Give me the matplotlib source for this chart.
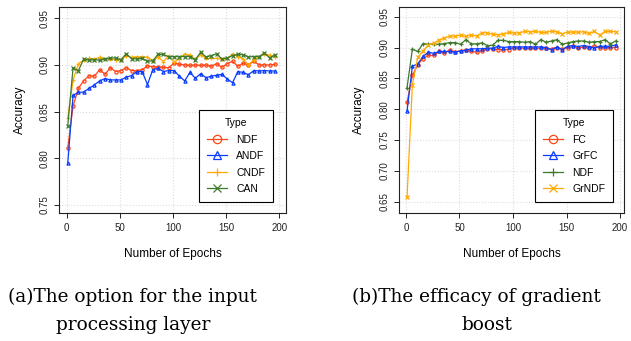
import numpy as np
import matplotlib
matplotlib.use("Agg")
import matplotlib.pyplot as plt

plt.rcParams['font.family'] = ['Liberation Sans', 'DejaVu Sans']

# epochs sampled every 5 steps
epochs = np.arange(1, 200, 5)

# (a) input processing layer
ndf_a = [0.811, 0.856, 0.875, 0.883, 0.8886, 0.888, 0.895, 0.890, 0.897, 0.893,
         0.894, 0.897, 0.894, 0.894, 0.895, 0.899, 0.898, 0.898, 0.8975, 0.897,
         0.902, 0.9007, 0.900, 0.8996, 0.900, 0.8996, 0.900, 0.8986, 0.9014, 0.8975,
         0.9014, 0.904, 0.8986, 0.902, 0.900, 0.904, 0.900, 0.900, 0.900, 0.9007]
andf_a = [0.795, 0.8675, 0.8707, 0.871, 0.875, 0.8786, 0.883, 0.8854, 0.884, 0.884,
          0.884, 0.887, 0.8886, 0.893, 0.893, 0.879, 0.895, 0.8964, 0.893, 0.894,
          0.894, 0.888, 0.883, 0.892, 0.8857, 0.8907, 0.8864, 0.888, 0.889, 0.890,
          0.885, 0.881, 0.893, 0.892, 0.8896, 0.894, 0.8936, 0.894, 0.8936, 0.8936]
cndf_a = [0.843, 0.884, 0.9014, 0.905, 0.907, 0.9064, 0.908, 0.9064, 0.9064, 0.9057,
          0.905, 0.910, 0.908, 0.909, 0.908, 0.9086, 0.9046, 0.9086, 0.9036, 0.910,
          0.903, 0.9068, 0.9118, 0.9104, 0.9064, 0.9107, 0.907, 0.907, 0.907, 0.9064,
          0.9064, 0.912, 0.909, 0.9064, 0.900, 0.9057, 0.909, 0.912, 0.9104, 0.9086]
can_a = [0.835, 0.897, 0.894, 0.9064, 0.905, 0.9057, 0.905, 0.9064, 0.9075, 0.9075,
         0.9057, 0.912, 0.9068, 0.9064, 0.907, 0.904, 0.9046, 0.9114, 0.9114, 0.9086,
         0.909, 0.909, 0.909, 0.909, 0.9057, 0.9136, 0.9086, 0.910, 0.912, 0.9064,
         0.9075, 0.910, 0.9114, 0.911, 0.9086, 0.909, 0.909, 0.9129, 0.9075, 0.911]

# (b) gradient boost
fc_b = [0.811, 0.855, 0.8723, 0.882, 0.8872, 0.8872, 0.8936, 0.891, 0.8963, 0.8926,
        0.8947, 0.8957, 0.8936, 0.8926, 0.8947, 0.8979, 0.8979, 0.8968, 0.8968, 0.8968,
        0.900, 0.899, 0.899, 0.899, 0.899, 0.899, 0.899, 0.8979, 0.900, 0.8979,
        0.900, 0.902, 0.899, 0.901, 0.900, 0.9032, 0.900, 0.900, 0.900, 0.900]
grfc_b = [0.797, 0.8697, 0.8734, 0.8856, 0.8926, 0.8904, 0.8936, 0.8936, 0.8936, 0.8926,
          0.8947, 0.8957, 0.8979, 0.8979, 0.8979, 0.899, 0.899, 0.902, 0.900, 0.901,
          0.901, 0.901, 0.901, 0.901, 0.901, 0.901, 0.900, 0.8963, 0.901, 0.8963,
          0.902, 0.9032, 0.9016, 0.9032, 0.9016, 0.899, 0.902, 0.902, 0.902, 0.9043]
ndf_b = [0.835, 0.8973, 0.8936, 0.9064, 0.9053, 0.9053, 0.9053, 0.9064, 0.908, 0.908,
         0.9053, 0.9128, 0.9059, 0.9059, 0.9074, 0.9032, 0.9037, 0.9117, 0.9117, 0.9096,
         0.9096, 0.9096, 0.9085, 0.9096, 0.9053, 0.9128, 0.9085, 0.9106, 0.9128, 0.9053,
         0.9074, 0.9096, 0.9106, 0.9106, 0.9085, 0.9096, 0.9096, 0.9128, 0.9059, 0.9106]
grndf_b = [0.657, 0.8394, 0.884, 0.8947, 0.9043, 0.907, 0.9122, 0.9154, 0.9186, 0.9186,
           0.9202, 0.918, 0.9202, 0.9186, 0.924, 0.924, 0.9213, 0.9207, 0.9218, 0.9245,
           0.9234, 0.924, 0.9261, 0.9255, 0.9261, 0.9245, 0.9245, 0.9266, 0.9255, 0.9223,
           0.925, 0.925, 0.925, 0.9255, 0.9229, 0.9261, 0.9202, 0.9261, 0.9261, 0.9255]

RED = '#FF4516'
BLUE = '#0A3CFF'
ORANGE = '#FFAA00'
GREEN = '#3F7A2A'

series_a = [('NDF', ndf_a, RED, 'o'), ('ANDF', andf_a, BLUE, '^'),
            ('CNDF', cndf_a, ORANGE, '+'), ('CAN', can_a, GREEN, 'x')]
series_b = [('FC', fc_b, RED, 'o'), ('GrFC', grfc_b, BLUE, '^'),
            ('NDF', ndf_b, GREEN, '+'), ('GrNDF', grndf_b, ORANGE, 'x')]

W, H = 631, 341
fig = plt.figure(figsize=(W / 100, H / 100), dpi=100)


def px_axes(x0, y0, x1, y1):
    return fig.add_axes([x0 / W, 1 - y1 / H, (x1 - x0) / W, (y1 - y0) / H])


def draw_panel(ax, series, xlim, ylim, yticks, legend_anchor):
    for name, vals, col, mk in series:
        ax.plot(epochs, vals, color=col, lw=0.9, marker=mk, markersize=2.3,
                markerfacecolor='none', markeredgewidth=0.9, label=name)
    ax.set_xlim(*xlim)
    ax.set_ylim(*ylim)
    ax.set_xticks([0, 50, 100, 150, 200])
    ax.set_yticks(yticks)
    ax.set_yticklabels([f'{t:.2f}' for t in yticks], rotation=90, va='center')
    ax.grid(True, color='#dcdcdc', linestyle=':', linewidth=0.8)
    ax.tick_params(direction='out', length=3.6, width=0.7, labelsize=7,
                   pad=3.5, colors='#222222')
    for sp in ax.spines.values():
        sp.set_linewidth(0.8)
        sp.set_color('#222222')
    ax.set_xlabel('Number of Epochs', fontsize=8.5, labelpad=11)
    ax.set_ylabel('Accuracy', fontsize=8.5, labelpad=10)
    handles, labels = ax.get_legend_handles_labels()
    leg = ax.legend(handles, labels, title='Type', loc='lower right',
                    bbox_to_anchor=legend_anchor, borderaxespad=0,
                    fontsize=7.5, title_fontsize=7.5, fancybox=False,
                    edgecolor='black', framealpha=1, handlelength=1.9,
                    handletextpad=0.9, labelspacing=0.62, borderpad=0.75,
                    markerscale=2.6)
    leg.get_frame().set_linewidth(0.8)


ax1 = px_axes(59.3, 6.7, 286, 212.7)
draw_panel(ax1, series_a, (-6.96, 206.3), (0.7418, 0.9624),
           [0.75, 0.80, 0.85, 0.90, 0.95], (0.943, 0.053))

ax2 = px_axes(399, 6.7, 624, 212.7)
draw_panel(ax2, series_b, (-6.5, 203.7), (0.6322, 0.9662),
           [0.65, 0.70, 0.75, 0.80, 0.85, 0.90, 0.95], (0.951, 0.053))

cap = dict(family=['DejaVu Serif'], fontsize=13.3, color='black')
fig.text(8 / W, 1 - 297 / H, '(a)The option for the input', ha='left',
         va='center', **cap)
fig.text(133 / W, 1 - 325 / H, 'processing layer', ha='center',
         va='center', **cap)
fig.text(352 / W, 1 - 297 / H, '(b)The efficacy of gradient', ha='left',
         va='center', **cap)
fig.text(487 / W, 1 - 325 / H, 'boost', ha='center', va='center', **cap)

fig.savefig('out.png', dpi=100)
